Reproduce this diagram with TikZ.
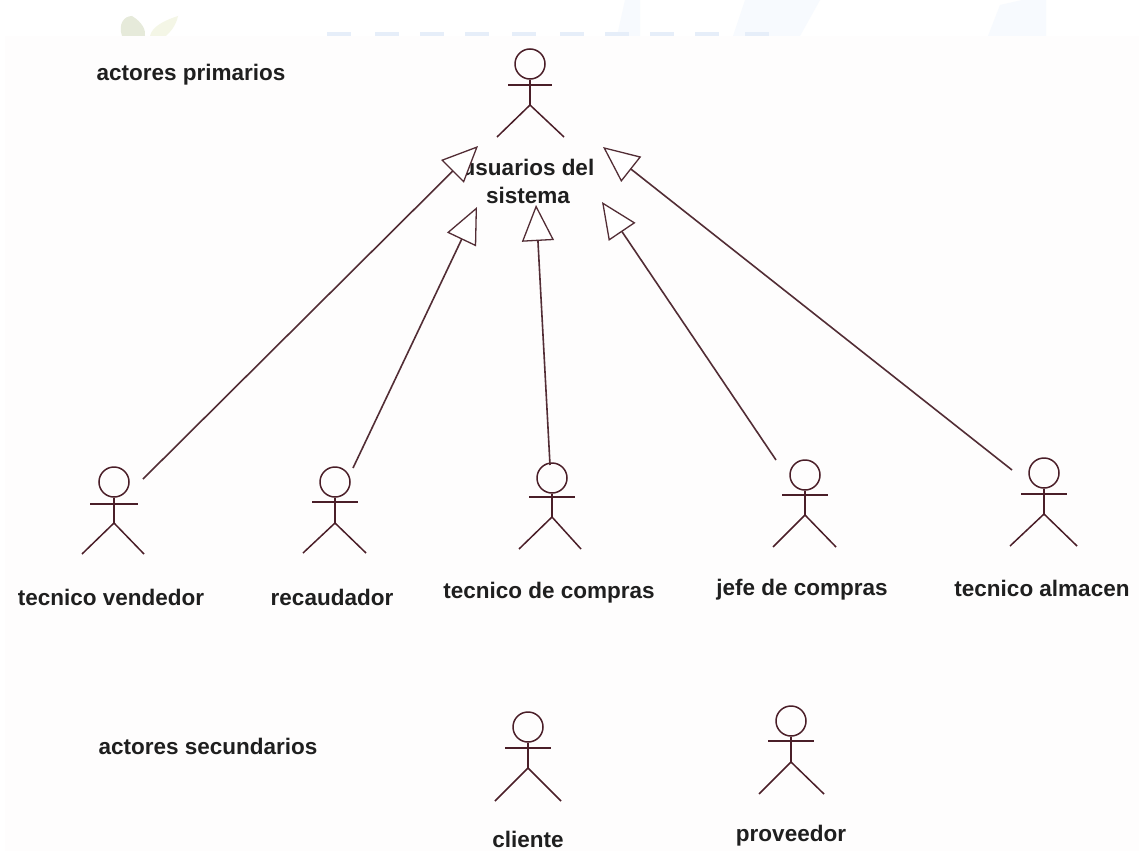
\documentclass[tikz,border=0pt]{standalone}
\usepackage{fontspec}
\setmainfont{Liberation Sans}
\usetikzlibrary{arrows.meta}
\definecolor{ink}{HTML}{4A1E28}
\definecolor{band}{HTML}{FEFDFD}
\definecolor{leafa}{HTML}{E6EADA}
\definecolor{leafb}{HTML}{F4F6E6}
\definecolor{logotext}{HTML}{E6EEF9}
\definecolor{logoblue}{HTML}{F7FAFE}
\tikzset{
  x=1pt,y=-1pt,
  actorline/.style={draw=ink,line width=1.5pt},
  lbl/.style={font=\fontsize{22.5}{28}\selectfont\bfseries,text=black!88,inner sep=0pt,align=center},
  head/.style={circle,draw=ink,line width=1.5pt,minimum size=30pt,inner sep=0pt},
  gen/.style={draw=ink!85!gray,line width=1.6pt,-{Triangle[open,fill=white,length=36pt,width=32pt,line width=1.3pt]},shorten >=0pt},
}
% #1 name, #2 x, #3 head y, #4 arm y, #5 hip y, #6 half arm, #7 left foot x, #8 right foot x, #9 foot y
\newcommand{\actorfig}[9]{
  \node[head] (#1) at (#2,#3) {};
  \coordinate (#1-hip) at (#2,#5);
  \coordinate (#1-al) at (#2-#6,#4);
  \coordinate (#1-ar) at (#2+#6,#4);
  \coordinate (#1-fl) at (#7,#9);
  \coordinate (#1-fr) at (#8,#9);
  \draw[actorline] (#1.south) -- (#1-hip);
  \draw[actorline] (#1-al) -- (#1-ar);
  \draw[actorline] (#1-fl) -- (#1-hip) -- (#1-fr);
}
\begin{document}
\begin{tikzpicture}
\useasboundingbox (0,0) rectangle (1139,851);
\fill[white] (0,0) rectangle (1139,851);
% faded logo at the top
\fill[leafa] (122,36) .. controls (118,24) and (124,16) .. (132,16) .. controls (142,22) and (146,30) .. (145,36) -- cycle;
\fill[leafb] (150,36) .. controls (152,28) and (160,22) .. (178,16) .. controls (176,26) and (170,32) .. (166,36) -- cycle;
\fill[logoblue] (617,36) -- (625,0) -- (640,0) -- (640,36) -- cycle;
\fill[logoblue] (733,36) -- (745,0) -- (820,0) -- (800,36) -- cycle;
\fill[logoblue] (988,36) -- (1000,5) -- (1022,0) -- (1046,0) -- (1046,36) -- cycle;
\foreach \tx in {327,375,420,465,512,560,605,650,695,745}
  \fill[logotext] (\tx,32) rectangle (\tx+24,36);
\fill[band] (5,36) rectangle (1139,851);
% actors
\actorfig{usr}{530}{64}{85}{105}{22}{497}{564}{137}
\actorfig{ven}{114}{482}{504}{523}{24}{82}{144}{554}
\actorfig{rec}{335}{482}{502}{523}{23}{303}{366}{553}
\actorfig{tco}{552}{478}{497}{517}{23}{519}{581}{549}
\actorfig{jef}{805}{475}{495}{515}{23}{773}{836}{547}
\actorfig{alm}{1044}{473}{494}{514}{23}{1010}{1077}{546}
\actorfig{cli}{528}{727}{748}{768}{23}{495}{561}{801}
\actorfig{pro}{791}{721}{741}{762}{23}{759}{824}{794}
% labels
\node[lbl] (lprim) at (191,75) {actores primarios};
\node[lbl] (lsec) at (208,746) {actores secundarios};
\node[lbl] (lusr) at (528,181) {usuarios del\\sistema};
\node[lbl] (lven) at (111,597) {tecnico vendedor};
\node[lbl] (lrec) at (332,597) {recaudador};
\node[lbl] (ltco) at (549,593) {tecnico de compras};
\node[lbl] (ljef) at (802,590) {jefe de compras};
\node[lbl] (lalm) at (1042,588) {tecnico almacen};
\node[lbl] (lcli) at (528,839) {cliente};
\node[lbl] (lpro) at (791,836) {proveedor};
% generalisation arrows
\coordinate (s1) at (143,479); \coordinate (t1) at (478,146);
\coordinate (s2) at (353,468); \coordinate (t2) at (477,207);
\coordinate (s3) at (550,465); \coordinate (t3) at (536,205);
\coordinate (s4) at (776,460); \coordinate (t4) at (602,202);
\coordinate (s5) at (1012,470); \coordinate (t5) at (603,147);
\draw[gen] (s1) -- (t1);
\draw[gen] (s2) -- (t2);
\draw[gen] (s3) -- (t3);
\draw[gen] (s4) -- (t4);
\draw[gen] (s5) -- (t5);
\end{tikzpicture}
\end{document}
